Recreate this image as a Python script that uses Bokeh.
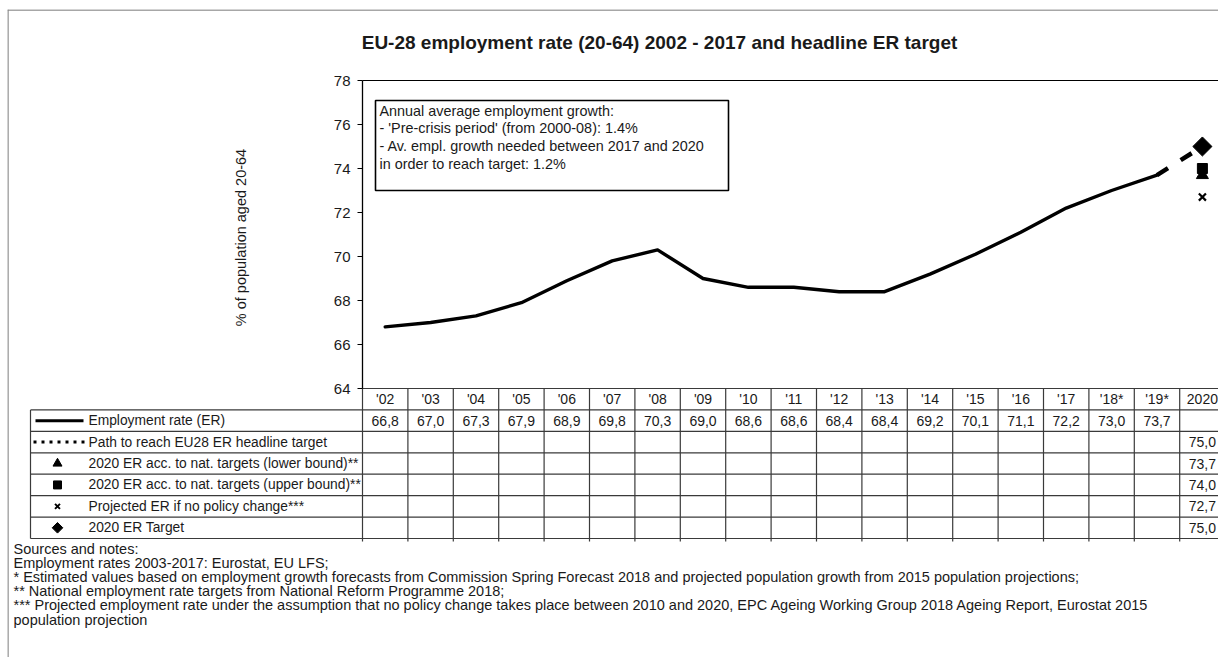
import math
from bokeh.plotting import figure
from bokeh.models import Range1d, LinearAxis, FixedTicker, Span, Label, BoxAnnotation
from bokeh.core.properties import value
from bokeh.embed import file_html
from bokeh.resources import INLINE

# ---------------- data ----------------
years = ["'02", "'03", "'04", "'05", "'06", "'07", "'08", "'09", "'10", "'11",
         "'12", "'13", "'14", "'15", "'16", "'17", "'18*", "'19*", "2020"]
er_values = [66.8, 67.0, 67.3, 67.9, 68.9, 69.8, 70.3, 69.0, 68.6, 68.6,
             68.4, 68.4, 69.2, 70.1, 71.1, 72.2, 73.0, 73.7]
path_2020 = 75.0
lower_2020 = 73.7
upper_2020 = 74.0
projected_2020 = 72.7
target_2020 = 75.0
series_labels = ["Employment rate (ER)",
                 "Path to reach EU28 ER headline target",
                 "2020 ER acc. to nat. targets (lower bound)**",
                 "2020 ER acc. to nat. targets (upper bound)**",
                 "Projected ER if no policy change***",
                 "2020 ER Target"]
y_ticks = [64, 66, 68, 70, 72, 74, 76, 78]
title_text = "EU-28 employment rate (20-64) 2002 - 2017 and headline ER target"
y_label_text = "% of population aged 20-64"
box_lines = ["Annual average employment growth:",
             "- 'Pre-crisis period' (from 2000-08): 1.4%",
             "- Av. empl. growth needed between 2017 and 2020",
             "in order to reach target: 1.2%"]
note_lines = ["Sources and notes:",
              "Employment rates 2003-2017: Eurostat, EU LFS;",
              "* Estimated values based on employment growth forecasts from Commission Spring Forecast 2018 and projected population growth from 2015 population projections;",
              "** National employment rate targets from National Reform Programme 2018;",
              "*** Projected employment rate under the assumption that no policy change takes place between 2010 and 2020, EPC Ageing Working Group 2018 Ageing Report, Eurostat 2015",
              "population projection"]

# ---------------- geometry ----------------
W, H = 1218, 657
FRAME_L, FRAME_T = 7, 9
PLOT_L = 362
COL_W = 45.4
PLOT_TOP, PLOT_BOT = 80, 388
Y_MIN, Y_MAX = 64, 78
PX = (PLOT_BOT - PLOT_TOP) / (Y_MAX - Y_MIN)
ROW_H = 21.43
LABEL_L = 30
FONT = value("Liberation Sans")
TXT = "#1a1a1a"
GRID_C = "#3a3a3a"


def cx(px):
    return (px - PLOT_L) / COL_W


p = figure(width=W, height=H, output_backend="svg", toolbar_location=None,
           x_range=Range1d(cx(FRAME_L), cx(W)), y_range=Range1d(H, FRAME_T),
           x_axis_location=None, y_axis_location=None,
           min_border_left=FRAME_L, min_border_top=FRAME_T,
           min_border_right=0, min_border_bottom=0)
p.grid.visible = False
p.outline_line_color = None
p.background_fill_color = "white"
p.border_fill_color = "white"
p.extra_y_ranges = {"er": Range1d(Y_MIN - (H - PLOT_BOT) / PX, Y_MAX + (PLOT_TOP - FRAME_T) / PX)}

# outer frame lines
p.add_layout(Span(location=cx(FRAME_L) + 0.01, dimension="height", line_color="#8a8a8a", line_width=1.5))
p.add_layout(Span(location=FRAME_T + 0.5, dimension="width", line_color="#8a8a8a", line_width=1.5))

# y axis
yax = LinearAxis(y_range_name="er", ticker=FixedTicker(ticks=y_ticks), bounds=(Y_MIN, Y_MAX),
                 fixed_location=0)
yax.major_tick_out = 5
yax.major_tick_in = 0
yax.minor_tick_out = 0
yax.minor_tick_in = 0
yax.axis_line_color = "black"
yax.axis_line_width = 1.3
yax.major_tick_line_color = "black"
yax.major_label_text_font = "Liberation Sans"
yax.major_label_text_font_size = "15px"
yax.major_label_text_color = TXT
yax.major_label_standoff = 7
p.add_layout(yax, "left")

# top frame line of chart
n_cols = len(years)
p.segment(x0=[0], y0=[Y_MAX], x1=[n_cols], y1=[Y_MAX], y_range_name="er",
          line_color="black", line_width=1.2)

# main line
xs = [i + 0.5 for i in range(len(er_values))]
p.line(xs, er_values, y_range_name="er", line_color="black", line_width=3.4,
       line_join="round", line_cap="round")

# path to target
i2020 = years.index("2020") + 0.5
p.line([xs[-1], i2020], [er_values[-1], path_2020], y_range_name="er",
       line_color="black", line_width=4.5, line_dash="13 15")

# 2020 markers
p.scatter([i2020], [projected_2020], marker="x", size=10, line_width=2.2, line_color="black", y_range_name="er")
p.scatter([i2020], [lower_2020], marker="triangle", size=12, color="black", y_range_name="er")
p.scatter([i2020], [upper_2020], marker="square", size=10, color="black", y_range_name="er")
p.scatter([i2020], [target_2020], marker="square", angle=math.pi / 4, size=13.5, color="black", y_range_name="er")

# annotation box
p.add_layout(BoxAnnotation(left=cx(375), right=cx(728), top=100, bottom=190,
                           fill_color="white", fill_alpha=1, line_color="black",
                           line_alpha=1, line_width=1.6))
for k, line_txt in enumerate(box_lines):
    p.add_layout(Label(x=cx(379), y=110 + 17.7 * k, text=line_txt, text_font="Liberation Sans",
                       text_font_size="14.4px", text_color=TXT, text_align="left",
                       text_baseline="middle"))

# title and y label
p.add_layout(Label(x=cx(659), y=42, text=title_text, text_font="Liberation Sans",
                   text_font_size="19px", text_font_style="bold", text_color=TXT,
                   text_align="center", text_baseline="middle"))
p.add_layout(Label(x=cx(240), y=237, text=y_label_text, angle=math.pi / 2,
                   text_font="Liberation Sans", text_font_size="14.5px", text_color=TXT,
                   text_align="center", text_baseline="middle"))

# ---------------- table ----------------
n_rows = 1 + len(series_labels)
row_y = [PLOT_BOT + k * ROW_H for k in range(n_rows + 1)]
row_c = [PLOT_BOT + (k + 0.5) * ROW_H for k in range(n_rows)]
x_end = cx(W) + 1

hx0, hy0, hx1, hy1 = [], [], [], []
hx0.append(0); hy0.append(row_y[0]); hx1.append(x_end); hy1.append(row_y[0])
for k in range(1, n_rows + 1):
    hx0.append(cx(LABEL_L)); hy0.append(row_y[k]); hx1.append(x_end); hy1.append(row_y[k])
for c in range(n_cols + 1):
    hx0.append(c); hy0.append(row_y[0]); hx1.append(c); hy1.append(row_y[-1] + 3)
hx0.append(cx(LABEL_L)); hy0.append(row_y[1]); hx1.append(cx(LABEL_L)); hy1.append(row_y[-1])
p.segment(x0=hx0, y0=hy0, x1=hx1, y1=hy1, line_color=GRID_C, line_width=1.2)

cell_x, cell_y, cell_t = [], [], []
for i, yr in enumerate(years):
    cell_x.append(i + 0.5); cell_y.append(row_c[0]); cell_t.append(yr)
for i, v in enumerate(er_values):
    cell_x.append(i + 0.5); cell_y.append(row_c[1]); cell_t.append(f"{v:.1f}".replace(".", ","))
for k, v in enumerate([path_2020, lower_2020, upper_2020, projected_2020, target_2020]):
    cell_x.append(i2020); cell_y.append(row_c[2 + k]); cell_t.append(f"{v:.1f}".replace(".", ","))
p.text(x=cell_x, y=cell_y, text=cell_t, text_font=FONT, text_font_size="14px",
       text_color=TXT, text_align="center", text_baseline="middle")

p.text(x=[cx(88)] * len(series_labels), y=row_c[1:], text=series_labels, text_font=FONT,
       text_font_size="13.8px", text_color=TXT, text_align="left", text_baseline="middle")

# legend symbols
p.line([cx(35), cx(83)], [row_c[1], row_c[1]], line_color="black", line_width=3)
p.line([cx(33), cx(86)], [row_c[2], row_c[2]], line_color="black", line_width=3, line_dash="3 5")
sym_x = cx(57)
p.scatter([sym_x], [row_c[3]], marker="triangle", size=9, color="black")
p.scatter([sym_x], [row_c[4]], marker="square", size=8, color="black")
p.scatter([sym_x], [row_c[5]], marker="x", size=7, line_width=2, line_color="black")
p.scatter([sym_x], [row_c[6]], marker="square", angle=math.pi / 4, size=7.5, color="black")

# notes
p.text(x=[cx(13)] * len(note_lines), y=[548 + 14.2 * k for k in range(len(note_lines))],
       text=note_lines, text_font=FONT, text_font_size="14.5px", text_color=TXT,
       text_align="left", text_baseline="middle")

open("out.html", "w").write(file_html(p, INLINE))
